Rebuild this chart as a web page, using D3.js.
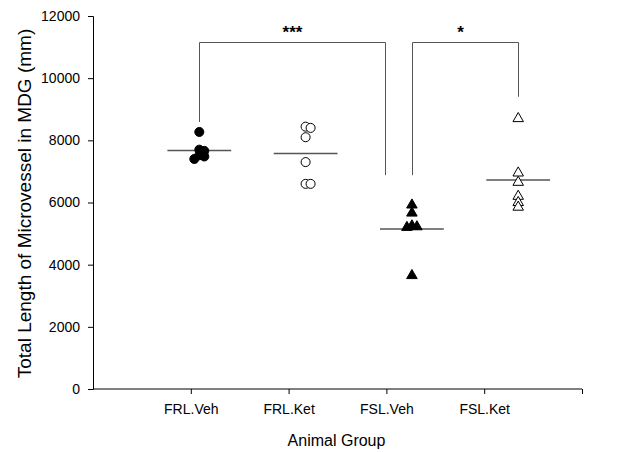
<!DOCTYPE html>
<html>
<head>
<meta charset="utf-8">
<script src="https://cdn.jsdelivr.net/npm/d3@7"></script>
<style>
  body { margin: 0; background: #fff; }
  text { font-family: "Liberation Sans", Arial, sans-serif; }
</style>
</head>
<body>
<script>
// Groups and measured values (mm)
const groups = ["FRL.Veh", "FRL.Ket", "FSL.Veh", "FSL.Ket"];
const frlVeh = [8270, 7700, 7660, 7520, 7480, 7400];
const frlKet = [8440, 8400, 8100, 7300, 6600, 6600];
const fslVeh = [5920, 5660, 5250, 5220, 5200, 3650];
const fslKet = [8700, 6950, 6650, 6200, 6000, 5850];
const series = [frlVeh, frlKet, fslVeh, fslKet];
const yTicks = [0, 2000, 4000, 6000, 8000, 10000, 12000];

// significance brackets: from group, to group position, top level, leg ends, label
const brackets = [
	{ from: 1, to: 2.75, top: 11150, leftEnd: 8590, rightEnd: 6880, label: "***" },
	{ from: 3, to: 4, top: 11150, leftEnd: 6880, rightEnd: 9400, label: "*" }
];

const width = 624, height = 452;
const mLeft = 93, mRight = 582, mTop = 16, mBottom = 389;

const svg = d3.select("body").append("svg")
	.attr("width", width)
	.attr("height", height);

const y = d3.scaleLinear().domain([0, 12000]).range([mBottom, mTop]);
// group positions (points) and category axis use slightly different spacing in the original
const xPts = d3.scaleLinear().domain([0, 4.6]).range([mLeft, mRight]);
const xAxisScale = d3.scaleLinear().domain([0, 5]).range([mLeft, mRight]);

// Y axis
const yAxis = svg.append("g")
	.attr("transform", `translate(${mLeft},0)`)
	.call(d3.axisLeft(y).tickValues(yTicks).tickSize(5).tickPadding(8).tickFormat(d3.format("d")));
yAxis.select(".domain").attr("stroke", "#000");
yAxis.selectAll("text").style("font-size", "14px").attr("fill", "#000");

// X axis
const xAxis = svg.append("g")
	.attr("transform", `translate(0,${mBottom})`)
	.call(d3.axisBottom(xAxisScale).tickValues([1, 2, 3, 4, 5]).tickSize(5).tickPadding(10)
		.tickFormat(d => groups[d - 1] || ""));
xAxis.select(".domain").attr("stroke", "#000").attr("d", `M${mLeft},0H${mRight}`);
xAxis.selectAll("text").style("font-size", "14px").attr("fill", "#000");

// Axis titles
svg.append("text")
	.attr("x", (mLeft + mRight) / 2 - 1)
	.attr("y", 446)
	.attr("text-anchor", "middle")
	.style("font-size", "16px")
	.text("Animal Group");

svg.append("text")
	.attr("transform", `translate(31,${(mTop + mBottom) / 2 + 1}) rotate(-90)`)
	.attr("text-anchor", "middle")
	.style("font-size", "19px")
	.text("Total Length of Microvessel in MDG (mm)");

// Mean lines
svg.selectAll(".mean")
	.data(series)
	.enter().append("line")
	.attr("class", "mean")
	.attr("x1", (d, i) => xPts(i + 1 - 0.3))
	.attr("x2", (d, i) => xPts(i + 1 + 0.3))
	.attr("y1", d => y(d3.mean(d)))
	.attr("y2", d => y(d3.mean(d)))
	.attr("stroke", "#555")
	.attr("stroke-width", 1.5);

// spread overlapping points sideways a little
function spread(vals) {
	const placed = [];
	return vals.map(v => {
		const py = y(v);
		const close = placed.filter(p => Math.abs(p - py) < 4).length;
		placed.push(py);
		const off = close === 0 ? 0 : (close % 2 ? 5 : -5) * Math.ceil(close / 2);
		return { v: v, off: off };
	});
}

const styles = [
	{ shape: d3.symbolCircle, fill: "#000" },
	{ shape: d3.symbolCircle, fill: "#fff" },
	{ shape: d3.symbolTriangle, fill: "#000" },
	{ shape: d3.symbolTriangle, fill: "#fff" }
];

series.forEach((vals, i) => {
	const st = styles[i];
	const size = st.shape === d3.symbolCircle ? 64 : 48;
	svg.append("g").selectAll("path")
		.data(spread(vals))
		.enter().append("path")
		.attr("d", d3.symbol().type(st.shape).size(size))
		.attr("transform", d => `translate(${xPts(i + 1) + d.off},${y(d.v)})`)
		.attr("fill", st.fill)
		.attr("stroke", "#000")
		.attr("stroke-width", 1);
});

// Significance brackets
brackets.forEach(b => {
	const x1 = Math.round(xPts(b.from)) + 0.5, x2 = Math.round(xPts(b.to)) + 0.5;
	svg.append("path")
		.attr("d", `M${x1},${y(b.leftEnd)}V${Math.round(y(b.top)) + 0.5}H${x2}V${y(b.rightEnd)}`)
		.attr("fill", "none")
		.attr("stroke", "#555")
		.attr("stroke-width", 1);
	svg.append("text")
		.attr("x", (x1 + x2) / 2 - (b.label.length === 1 ? 5 : 0))
		.attr("y", y(b.top) - 4)
		.attr("text-anchor", "middle")
		.style("font-size", "17px")
		.style("font-weight", "bold")
		.text(b.label);
});
</script>
</body>
</html>
